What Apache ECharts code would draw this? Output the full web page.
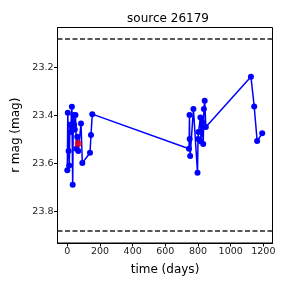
<!DOCTYPE html>
<html><head><meta charset="utf-8">
<script src="https://cdn.jsdelivr.net/npm/echarts@6/dist/echarts.min.js"></script>
<style>html,body{margin:0;padding:0;background:#fff}#c{width:288px;height:288px}</style>
</head><body><div id="c"></div>
<script>
const titleText = "source 26179";
const xLabel = "time (days)";
const yLabel = "r mag (mag)";
const days = [0, 3, 8, 12, 16, 20, 28, 33, 37, 42, 46, 50, 56, 61, 67, 84, 92, 139, 145, 153,
  745, 748, 749, 752, 772, 797, 800, 803, 815, 818, 826, 832, 836, 841, 848,
  1124, 1144, 1162, 1193];
const mags = [23.63, 23.39, 23.55, 23.61, 23.44, 23.47, 23.365, 23.69, 23.40, 23.44, 23.46, 23.40, 23.54, 23.49, 23.55, 23.435, 23.60, 23.557, 23.483, 23.396,
  23.54, 23.40, 23.50, 23.57, 23.375, 23.64, 23.50, 23.47, 23.41, 23.51, 23.43, 23.52, 23.375, 23.34, 23.45,
  23.24, 23.364, 23.508, 23.476];
const redDay = [67];
const redMag = [23.518];
const limitLines = [23.08, 23.882];
const xTicks = [0, 200, 400, 600, 800, 1000, 1200];
const yTicks = [23.2, 23.4, 23.6, 23.8];

const chart = echarts.init(document.getElementById('c'));
const font = 'DejaVu Sans';
chart.setOption({
  animation: false,
  title: { text: titleText, left: 163, top: 8, textAlign: 'center',
    textStyle: { fontFamily: font, fontSize: 12, fontWeight: 'normal', color: '#000' } },
  grid: { left: 57.5, right: 15.5, top: 27.5, bottom: 45, show: true, borderColor: '#000', borderWidth: 1, backgroundColor: 'transparent' },
  xAxis: { type: 'value', min: -60, max: 1256,
    name: xLabel, nameLocation: 'middle', nameGap: 21,
    nameTextStyle: { fontFamily: font, fontSize: 12, color: '#000' },
    axisLine: { show: true, onZero: false, lineStyle: { color: '#000', width: 1 } },
    axisTick: { show: true, length: 3.5, lineStyle: { color: '#000' }, customValues: xTicks },
    axisLabel: { fontFamily: font, fontSize: 9.5, color: '#222', margin: 4, customValues: xTicks, formatter: v => String(v) },
    splitLine: { show: false } },
  yAxis: { type: 'value', min: 23.035, max: 23.933, inverse: true,
    name: yLabel, nameLocation: 'middle', nameGap: 34,
    nameTextStyle: { fontFamily: font, fontSize: 12, color: '#000' },
    axisLine: { show: true, onZero: false, lineStyle: { color: '#000', width: 1 } },
    axisTick: { show: true, length: 3.5, lineStyle: { color: '#000' }, customValues: yTicks },
    axisLabel: { fontFamily: font, fontSize: 9.5, color: '#222', margin: 4, customValues: yTicks, formatter: v => v.toFixed(1) },
    splitLine: { show: false } },
  series: [
    { type: 'line', data: days.map((d, i) => [d, mags[i]]), symbol: 'circle', symbolSize: 6,
      itemStyle: { color: '#0000ff' }, lineStyle: { color: '#0000ff', width: 1.5 }, z: 3,
      markLine: { silent: true, symbol: 'none', label: { show: false },
        lineStyle: { color: '#222', type: [5, 2.5], width: 1.5 },
        data: limitLines.map(v => ({ yAxis: v })) } },
    { type: 'scatter', data: redDay.map((d, i) => [d, redMag[i]]), symbol: 'circle', symbolSize: 7,
      itemStyle: { color: '#ff0000' }, z: 5 }
  ]
});
</script></body></html>
